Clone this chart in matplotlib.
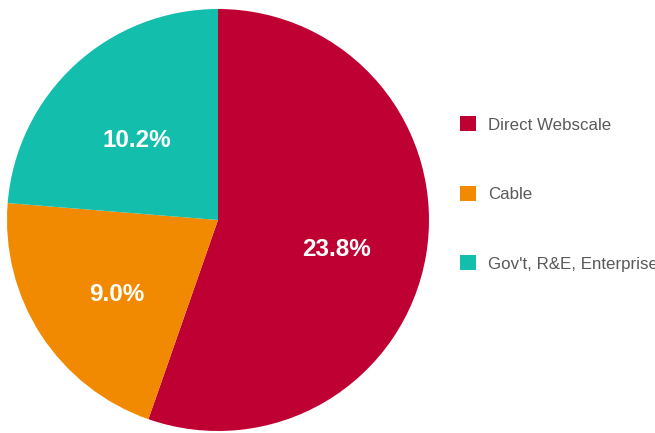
import matplotlib.pyplot as plt
from matplotlib.transforms import offset_copy

plt.rcParams['font.family'] = ['Liberation Sans', 'DejaVu Sans']

segments = ['Direct Webscale', 'Cable', "Gov't, R&E, Enterprise"]
shares = [23.8, 9.0, 10.2]
colors = ['#BE0032', '#F18A00', '#14BEAD']

total = sum(shares)


def value_label(pct):
    return f'{pct * total / 100:.1f}%'


fig = plt.figure(figsize=(6.55, 4.33), dpi=100)
ax = fig.add_axes([7 / 655, 2 / 433, 422 / 655, 422 / 433])

wedges, texts, autotexts = ax.pie(
    shares, colors=colors, startangle=90, counterclock=False,
    autopct=value_label, pctdistance=0.57,
    textprops={'color': 'white', 'fontsize': 17.5, 'fontweight': 'bold'},
)
# labels sit a little lower than the default spot
for t in autotexts:
    t.set_transform(offset_copy(ax.transData, fig=fig, x=0, y=-9, units='dots'))

ax.set_xlim(-1, 1)
ax.set_ylim(-1, 1)
ax.set_aspect('equal')

ax.legend(wedges, segments, loc='center left',
          bbox_to_anchor=(460 / 655, 1 - 194 / 433),
          bbox_transform=fig.transFigure,
          frameon=False, fontsize=12.2, labelcolor='#595959',
          handlelength=0.97, handleheight=0.97, handletextpad=0.68,
          labelspacing=3.15, borderpad=0, borderaxespad=0)

plt.savefig('out.png', dpi=100)
plt.close()
